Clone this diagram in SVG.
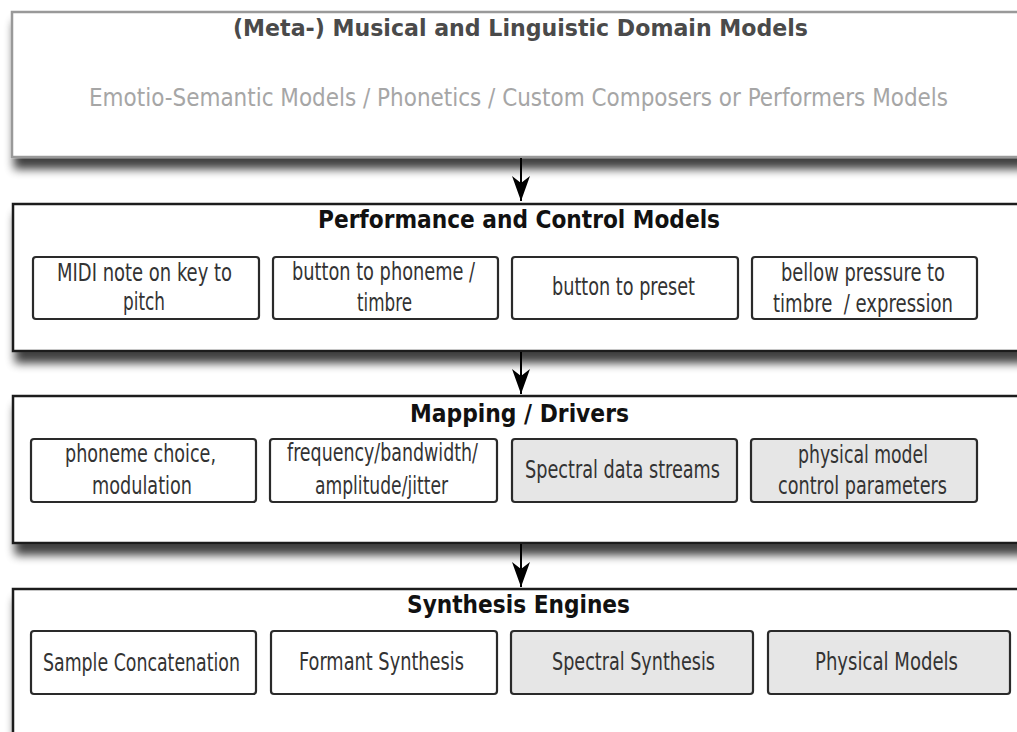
<svg xmlns="http://www.w3.org/2000/svg" width="1017" height="732" viewBox="0 0 1017 732">
  <defs>
    <filter id="sh" x="-5%" y="-15%" width="115%" height="150%">
      <feGaussianBlur in="SourceAlpha" stdDeviation="5"/>
      <feOffset dx="3" dy="11" result="o"/>
      <feComponentTransfer><feFuncA type="linear" slope="0.75"/></feComponentTransfer>
      <feMerge><feMergeNode/><feMergeNode in="SourceGraphic"/></feMerge>
    </filter>
    <marker id="ah" viewBox="-1 -10 28 20" markerWidth="28" markerHeight="20" refX="25" refY="0" orient="auto" markerUnits="userSpaceOnUse">
      <path d="M0,-9 L25,0 L0,9 L7,0 z" fill="#000"/>
    </marker>
    <style>
      .outer{fill:#fff;stroke:#1a1a1a;stroke-width:2.5}
      .outerTop{fill:#fff;stroke:#999;stroke-width:2.5}
      .inner{fill:#fff;stroke:#2a2a2a;stroke-width:2.2}
      .shaded{fill:#e6e6e6;stroke:#2a2a2a;stroke-width:2.2}
      text{font-family:"DejaVu Sans Condensed","Liberation Sans Narrow","Liberation Sans",sans-serif}
      .title{font-weight:bold;font-size:25px;fill:#111}
      .ttop{font-weight:bold;font-size:23px;fill:#4a4a4a}
      .sub{font-size:24px;fill:#a6a6a6}
      .lbl{font-size:24px;fill:#333}
      .conn{stroke:#000;stroke-width:2;fill:none}
    </style>
  </defs>
  <rect width="1017" height="732" fill="#fff"/>

  <g id="domain">
    <rect class="outerTop" x="12" y="12" width="1030" height="145" filter="url(#sh)"/>
    <text class="ttop" x="233" y="36" textLength="575" lengthAdjust="spacingAndGlyphs">(Meta-) Musical and Linguistic Domain Models</text>
    <text class="sub" x="89" y="106" textLength="859" lengthAdjust="spacingAndGlyphs">Emotio-Semantic Models / Phonetics / Custom Composers or Performers Models</text>
  </g>

  <g id="performance">
    <rect class="outer" x="13" y="204" width="1030" height="147" filter="url(#sh)"/>
    <text class="title" x="318" y="228" textLength="402" lengthAdjust="spacingAndGlyphs">Performance and Control Models</text>
    <g id="perf-midi">
      <rect class="inner" x="33" y="257" width="226" height="62" rx="3"/>
      <text class="lbl" x="57" y="281" textLength="175" lengthAdjust="spacingAndGlyphs">MIDI note on key to</text>
      <text class="lbl" x="123" y="310" textLength="42" lengthAdjust="spacingAndGlyphs">pitch</text>
    </g>
    <g id="perf-phoneme">
      <rect class="inner" x="273" y="257" width="225" height="62" rx="3"/>
      <text class="lbl" x="292" y="280" textLength="183" lengthAdjust="spacingAndGlyphs">button to phoneme /</text>
      <text class="lbl" x="357" y="311" textLength="55" lengthAdjust="spacingAndGlyphs">timbre</text>
    </g>
    <g id="perf-preset">
      <rect class="inner" x="512" y="257" width="226" height="62" rx="3"/>
      <text class="lbl" x="552" y="295" textLength="143" lengthAdjust="spacingAndGlyphs">button to preset</text>
    </g>
    <g id="perf-bellow">
      <rect class="inner" x="752" y="257" width="225" height="62" rx="3"/>
      <text class="lbl" x="781" y="281" textLength="164" lengthAdjust="spacingAndGlyphs">bellow pressure to</text>
      <text class="lbl" x="773" y="312" textLength="180" lengthAdjust="spacingAndGlyphs" xml:space="preserve">timbre  / expression</text>
    </g>
  </g>

  <g id="mapping">
    <rect class="outer" x="13" y="396" width="1030" height="147" filter="url(#sh)"/>
    <text class="title" x="410" y="422" textLength="219" lengthAdjust="spacingAndGlyphs">Mapping / Drivers</text>
    <g id="map-phoneme">
      <rect class="inner" x="31" y="439" width="225" height="63" rx="3"/>
      <text class="lbl" x="65" y="462" textLength="151" lengthAdjust="spacingAndGlyphs">phoneme choice,</text>
      <text class="lbl" x="92" y="494" textLength="100" lengthAdjust="spacingAndGlyphs">modulation</text>
    </g>
    <g id="map-freq">
      <rect class="inner" x="270" y="439" width="227" height="63" rx="3"/>
      <text class="lbl" x="287" y="461" textLength="191" lengthAdjust="spacingAndGlyphs">frequency/bandwidth/</text>
      <text class="lbl" x="315" y="494" textLength="133" lengthAdjust="spacingAndGlyphs">amplitude/jitter</text>
    </g>
    <g id="map-spectral">
      <rect class="shaded" x="512" y="439" width="225" height="63" rx="3"/>
      <text class="lbl" x="525" y="478" textLength="195" lengthAdjust="spacingAndGlyphs">Spectral data streams</text>
    </g>
    <g id="map-physical">
      <rect class="shaded" x="751" y="439" width="226" height="63" rx="3"/>
      <text class="lbl" x="798" y="463" textLength="130" lengthAdjust="spacingAndGlyphs">physical model</text>
      <text class="lbl" x="778" y="494" textLength="169" lengthAdjust="spacingAndGlyphs">control parameters</text>
    </g>
  </g>

  <g id="synthesis">
    <rect class="outer" x="13" y="589" width="1030" height="170" filter="url(#sh)"/>
    <text class="title" x="407" y="613" textLength="223" lengthAdjust="spacingAndGlyphs">Synthesis Engines</text>
    <g id="syn-sample">
      <rect class="inner" x="31" y="631" width="225" height="63" rx="3"/>
      <text class="lbl" x="43" y="671" textLength="197" lengthAdjust="spacingAndGlyphs">Sample Concatenation</text>
    </g>
    <g id="syn-formant">
      <rect class="inner" x="271" y="631" width="226" height="63" rx="3"/>
      <text class="lbl" x="299" y="670" textLength="165" lengthAdjust="spacingAndGlyphs">Formant Synthesis</text>
    </g>
    <g id="syn-spectral">
      <rect class="shaded" x="511" y="631" width="242" height="63" rx="3"/>
      <text class="lbl" x="552" y="670" textLength="163" lengthAdjust="spacingAndGlyphs">Spectral Synthesis</text>
    </g>
    <g id="syn-physical">
      <rect class="shaded" x="768" y="631" width="242" height="63" rx="3"/>
      <text class="lbl" x="815" y="670" textLength="143" lengthAdjust="spacingAndGlyphs">Physical Models</text>
    </g>
  </g>

  <g id="connectors">
    <line class="conn" x1="521" y1="158" x2="521" y2="201" marker-end="url(#ah)"/>
    <line class="conn" x1="521" y1="352" x2="521" y2="394" marker-end="url(#ah)"/>
    <line class="conn" x1="521" y1="544" x2="521" y2="587" marker-end="url(#ah)"/>
  </g>
</svg>
